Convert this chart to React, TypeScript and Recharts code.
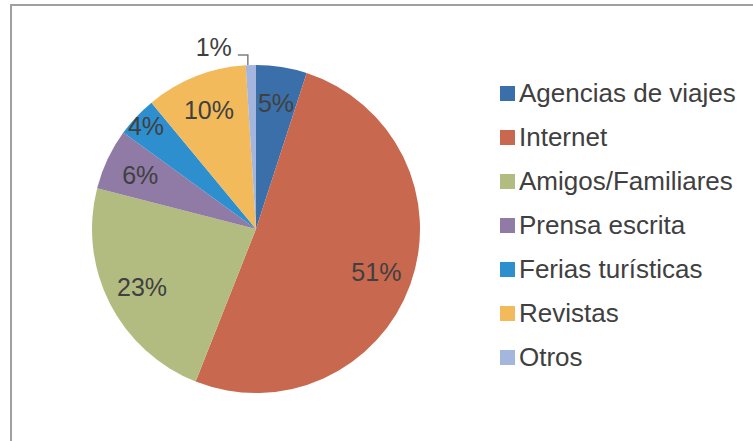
import { PieChart, Pie, Cell, Legend } from "recharts";

const categories = [
  "Agencias de viajes",
  "Internet",
  "Amigos/Familiares",
  "Prensa escrita",
  "Ferias turísticas",
  "Revistas",
  "Otros",
];
const shares = [5, 51, 23, 6, 4, 10, 1];
const colors = ["#3b6fa9", "#c8684e", "#b3bc80", "#8f7ba5", "#2e8fcf", "#f2ba5a", "#a4b6dd"];

const data = categories.map((name, i) => ({ name, value: shares[i] }));

const RAD = Math.PI / 180;
const FONT = "'Liberation Sans', Arial, sans-serif";

function renderLabel(props: any) {
  const { cx, cy, midAngle, outerRadius, percent } = props;
  const pct = Math.round(percent * 100);
  const cos = Math.cos(-midAngle * RAD);
  const sin = Math.sin(-midAngle * RAD);
  if (percent < 0.02) {
    // tiny slice: label sits outside with an elbow leader line
    const ex = cx + outerRadius * cos - 3;
    const ey = cy + outerRadius * sin;
    const ky = ey - 10;
    const kx = ex - 10;
    return (
      <g>
        <polyline points={`${ex},${ey} ${ex},${ky} ${kx},${ky}`} fill="none" stroke="#7f7f7f" strokeWidth={1.5} />
        <text x={kx - 6} y={ky + 1} textAnchor="end" fill="#404040" fontSize={25} fontFamily={FONT}>
          {pct}%
        </text>
      </g>
    );
  }
  const r = outerRadius * (percent < 0.05 ? 0.92 : 0.78);
  const x = cx + r * cos;
  const y = cy + r * sin;
  return (
    <text x={x} y={y} textAnchor="middle" dominantBaseline="central" fill="#404040" fontSize={25} fontFamily={FONT}>
      {pct}%
    </text>
  );
}

function LegendBox() {
  return (
    <div style={{ fontFamily: FONT, fontSize: 26, color: "#404040" }}>
      {categories.map((c, i) => (
        <div key={c} style={{ height: 44, display: "flex", alignItems: "center" }}>
          <span style={{ width: 15, height: 15, background: colors[i], marginRight: 4, display: "inline-block" }} />
          <span>{c}</span>
        </div>
      ))}
    </div>
  );
}

export default function App() {
  return (
    <div style={{ position: "fixed", left: 0, top: 0, width: 753, height: 441, background: "#fff", overflow: "hidden" }}>
      <div
        style={{
          position: "absolute",
          left: 10,
          top: 4,
          right: 0,
          bottom: 0,
          borderTop: "2px solid #a0a0a0",
          borderLeft: "2px solid #a0a0a0",
        }}
      />
      <div style={{ position: "absolute", left: 0, top: 0 }}>
        <PieChart width={753} height={441}>
          <Pie
            data={data}
            dataKey="value"
            nameKey="name"
            cx={251}
            cy={224}
            outerRadius={164}
            startAngle={90}
            endAngle={-270}
            stroke="none"
            label={renderLabel}
            labelLine={false}
            isAnimationActive={false}
          >
            {data.map((d, i) => (
              <Cell key={d.name} fill={colors[i]} />
            ))}
          </Pie>
          <Legend
            content={() => <LegendBox />}
            layout="vertical"
            wrapperStyle={{ position: "absolute", left: 500, top: 71, width: 250 }}
          />
        </PieChart>
      </div>
    </div>
  );
}
